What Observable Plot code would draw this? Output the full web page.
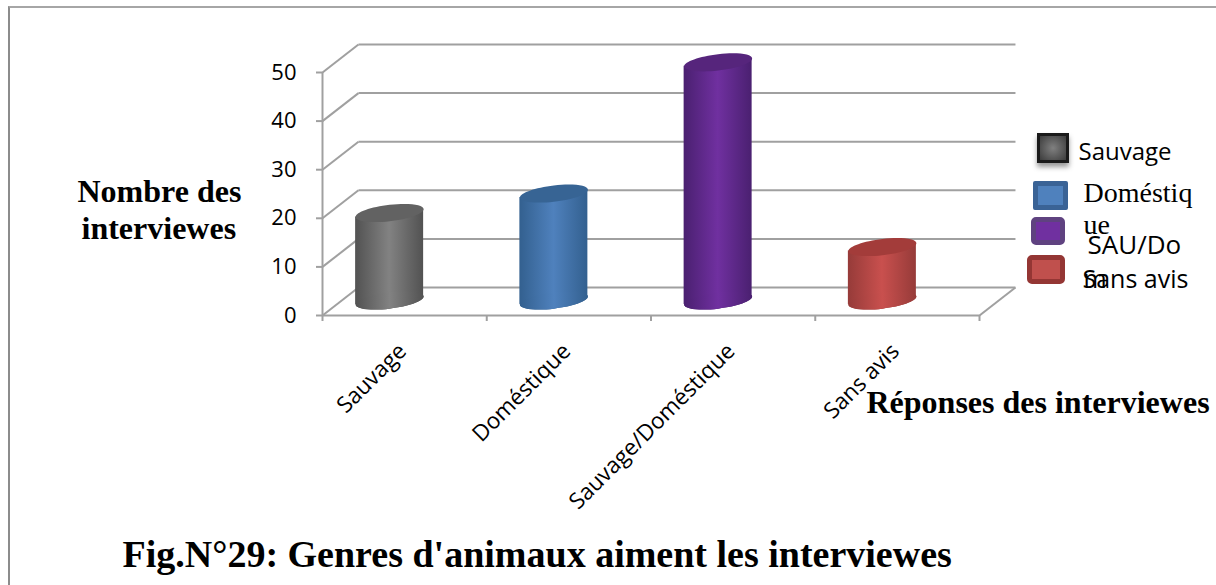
<!DOCTYPE html>
<html><head><meta charset="utf-8">
<script src="https://cdn.jsdelivr.net/npm/d3@7"></script>
<script src="https://cdn.jsdelivr.net/npm/@observablehq/plot@0.6"></script>
<style>
html,body{margin:0;padding:0;background:#fff;}
#wrap{position:relative;width:1216px;height:585px;overflow:hidden;}
#wrap svg{position:absolute;left:0;top:0;}
#border{position:absolute;left:8px;top:6px;right:0;bottom:0;border-left:2px solid #8c8c8c;border-top:2px solid #a6a6a6;}
.sw{position:absolute;box-sizing:border-box;}
</style></head><body>
<div id="wrap"><div id="border"></div></div>
<script>
const categories = ["Sauvage", "Doméstique", "Sauvage/Doméstique", "Sans avis"];
const values = [18, 22, 49, 11];
const yTicks = [0, 10, 20, 30, 40, 50];
const xTicks = [0, 1, 2, 3, 4];
const bodyEdge = ["#525252", "#33608f", "#4a2070", "#963b39"];
const bodyMid  = ["#828282", "#4f81bd", "#7030a0", "#c9504e"];
const capFill  = ["#626262", "#376494", "#56257c", "#a33c3a"];
const axisColor = "#a0a0a0";

// wall depth, in axis units
const depthX = 0.219, depthY = 5.76;
// cylinders: half width and tilt in axis units, shift in px
const halfW = 0.207, tilt = 0.8;
const shiftX = -15, shiftY = -15;

const cyl = categories.map((c, i) => ({c, i, x: i + 0.5, v: values[i]}));
const sides = cyl.flatMap(d => [
  {...d, px: d.x - halfW, y1: -tilt, y2: d.v - tilt},
  {...d, px: d.x + halfW, y1:  tilt, y2: d.v + tilt}
]);

// tilted ellipse, as a custom dot symbol
const cap = {draw(p, size) {
  const a = Math.sqrt(size / Math.PI), b = a * 0.24, s = 0.114, k = 0.5523;
  const P = (cx, cy) => [a * cx, b * cy - s * a * cx];
  const pts = [[1,k,k,1,0,1],[-k,1,-1,k,-1,0],[-1,-k,-k,-1,0,-1],[k,-1,1,-k,1,0]];
  p.moveTo(...P(1, 0));
  for (const q of pts) p.bezierCurveTo(...P(q[0],q[1]), ...P(q[2],q[3]), ...P(q[4],q[5]));
  p.closePath();
}};

const SANS = "Open Sans", SERIF = "Liberation Serif";
const note = (t, x, y, size, family, weight = "normal", color = "#000") =>
  Plot.text([t], {text: d => d, frameAnchor: "top-left", dx: x - 322, dy: y - 72, textAnchor: "start",
    lineAnchor: "bottom", fontSize: size, fontFamily: family, fontWeight: weight, fill: color});

const defs = () => {
  const svg = d3.create("svg:defs");
  categories.forEach((_, i) => {
    const g = svg.append("linearGradient").attr("id", "g" + i);
    [[0, bodyEdge[i]], [0.5, bodyMid[i]], [1, bodyEdge[i]]].forEach(([o, c]) =>
      g.append("stop").attr("offset", o).attr("stop-color", c));
  });
  return svg.node();
};

const chart = Plot.plot({
  width: 1216, height: 585,
  marginLeft: 322, marginRight: 237, marginTop: 72, marginBottom: 270,
  style: {background: "transparent", overflow: "visible"},
  x: {domain: [0, 4], label: null},
  y: {domain: [0, 50], label: null},
  marks: [
    defs,
    // back wall gridlines
    Plot.link(yTicks, {x1: depthX, x2: 4 + depthX, y1: d => d + depthY, y2: d => d + depthY, stroke: axisColor, strokeWidth: 2}),
    // side wall diagonals
    Plot.link(yTicks, {x1: 0, x2: depthX, y1: d => d, y2: d => d + depthY, stroke: axisColor, strokeWidth: 2}),
    // floor right diagonal
    Plot.link([4], {x1: d => d, x2: d => d + depthX, y1: 0, y2: depthY, stroke: axisColor, strokeWidth: 2}),
    // front axes
    Plot.ruleX([0], {y1: 0, y2: 50, stroke: axisColor, strokeWidth: 2}),
    Plot.ruleY([0], {x1: 0, x2: 4, stroke: axisColor, strokeWidth: 2}),
    Plot.axisY({ticks: yTicks, tickSize: 6, tickPadding: 20, fontSize: 22, fontFamily: SANS, stroke: axisColor, fill: "#000", strokeWidth: 2, label: null}),
    Plot.axisX({ticks: xTicks, tickSize: 6, tickFormat: () => "", stroke: axisColor, strokeWidth: 2, label: null}),
    // cylinders
    Plot.dot(cyl, {x: "x", y: 0, r: 34, symbol: cap, fill: (d) => bodyEdge[d.i], stroke: null, dx: shiftX, dy: shiftY}),
    Plot.areaY(sides, {x: "px", y1: "y1", y2: "y2", z: "c", fill: d => `url(#g${d.i})`, dx: shiftX, dy: shiftY}),
    Plot.dot(cyl, {x: "x", y: 0, r: 34, symbol: cap, fill: d => `url(#g${d.i})`, stroke: null, dx: shiftX, dy: shiftY}),
    Plot.dot(cyl, {x: "x", y: "v", r: 34, symbol: cap, fill: d => capFill[d.i], stroke: null, dx: shiftX, dy: shiftY}),
    // category labels
    Plot.text(cyl, {x: "x", y: 0, text: "c", rotate: -45, textAnchor: "end", fontSize: 22.5, fontFamily: SANS, fill: "#000", dx: -2, dy: 32}),
    // titles
    note("Nombre des", 77, 201, 32, SERIF, "bold"),
    note("interviewes", 81, 238, 32, SERIF, "bold"),
    note("Réponses des interviewes", 866, 412, 32, SERIF, "bold"),
    note("Fig.N°29: Genres d'animaux aiment les interviewes", 122, 566, 38, SERIF, "bold"),
    // legend text
    note("Sauvage", 1078, 159, 24, SANS),
    note("Doméstiq", 1083, 201, 28, SERIF),
    note("ue", 1083, 233, 28, SERIF),
    note("SAU/Do", 1087, 253, 26, SANS),
    note("m", 1083, 287, 25, SANS),
    note("Sans avis", 1082, 287, 25, SANS)
  ]
});
const wrap = document.getElementById("wrap");
wrap.appendChild(chart);
const swatches = [
  {x: 1037, y: 133, w: 32, h: 30, style: "border:3px solid #1a1a1a;background:radial-gradient(circle,#808080,#3c3c3c);box-shadow:0 4px 5px #999;"},
  {x: 1033, y: 181, w: 35, h: 29, style: "border:5px solid #3a6396;background:#4f81bd;border-radius:2px;"},
  {x: 1031, y: 217, w: 34, h: 28, style: "border:5px solid #5f4280;background:#7030a0;border-radius:5px;"},
  {x: 1027, y: 255, w: 38, h: 29, style: "border:5px solid #943634;background:#c0504d;border-radius:5px;"}
];
swatches.forEach(s => {
  const d = document.createElement("div");
  d.className = "sw";
  d.style.cssText = `left:${s.x}px;top:${s.y}px;width:${s.w}px;height:${s.h}px;${s.style}`;
  wrap.appendChild(d);
});
</script>
</body></html>
